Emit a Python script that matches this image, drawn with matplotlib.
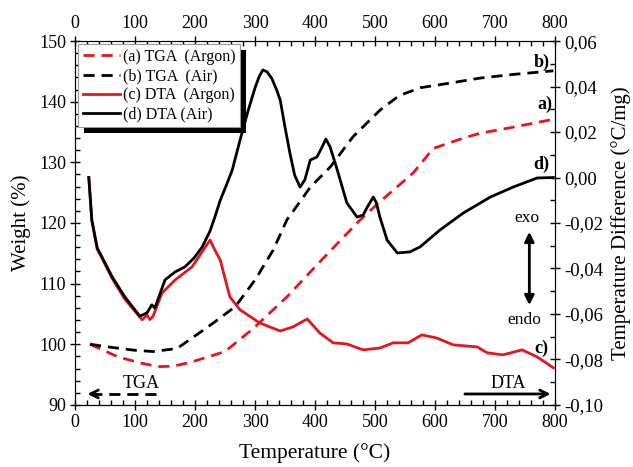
import matplotlib
matplotlib.use("Agg")
import matplotlib.pyplot as plt
from matplotlib.ticker import MultipleLocator, FuncFormatter
from matplotlib.patches import Rectangle

plt.rcParams['font.family'] = ['Liberation Serif', 'DejaVu Serif']

# ---- data ----
tga_air_T = [25, 60, 100, 130, 170, 222, 267, 300, 330, 353, 392, 425, 463, 508, 540, 575, 620, 675, 730, 797]
tga_air_W = [100, 99.5, 99.0, 98.8, 99.3, 102.9, 106.2, 110.6, 115.5, 120.5, 125.9, 129.2, 134.2, 138.6, 141.0, 142.3, 143.0, 143.9, 144.5, 145.1]

tga_ar_T = [25, 72, 110, 138, 165, 195, 250, 297, 353, 408, 475, 508, 563, 597, 647, 675, 730, 797]
tga_ar_W = [100, 97.9, 96.9, 96.3, 96.4, 97.1, 98.8, 102.6, 107.8, 113.6, 120.5, 123.5, 128.2, 132.3, 134.0, 134.8, 135.8, 137.1]

dta_air_T = [23, 28, 37, 45, 62, 83, 108, 120, 128, 133, 150, 167, 183, 198, 212, 225, 233, 242, 252, 262, 275, 288,
             300, 307, 313, 320, 328, 336, 342, 350, 358, 366, 375, 383, 392, 403, 410, 418, 425, 437, 453, 470, 480,
             487, 497, 502, 508, 520, 537, 558, 575, 608, 647, 692, 730, 770, 797]
dta_air_D = [0.0, -0.0187, -0.031, -0.035, -0.0437, -0.0525, -0.061, -0.0595, -0.056, -0.0574, -0.045, -0.0415,
             -0.0393, -0.0355, -0.0305, -0.0235, -0.0174, -0.010, -0.0035, 0.0033, 0.0165, 0.029,
             0.0395, 0.0445, 0.0473, 0.0465, 0.0435, 0.0385, 0.034, 0.022, 0.0108, 0.001, -0.0042, -0.001, 0.0077, 0.009,
             0.0125, 0.0169, 0.0135, 0.0033, -0.0112, -0.0174, -0.0165,
             -0.013, -0.0086, -0.011, -0.0174, -0.0275, -0.0332, -0.0327, -0.0305, -0.0231, -0.0156, -0.0086, -0.0042,
             -0.0002, 0.0]

dta_ar_T = [23, 28, 37, 45, 62, 83, 112, 120, 125, 130, 145, 167, 195, 225, 233, 242, 258, 275, 308, 342, 363, 387,
            408, 430, 453, 480, 508, 530, 555, 578, 603, 630, 670, 687, 713, 745, 770, 797]
dta_ar_D = [0.0, -0.019, -0.0315, -0.0355, -0.0445, -0.0535, -0.0626, -0.0605, -0.0625, -0.061, -0.0508, -0.045,
            -0.0393, -0.0275, -0.0319, -0.0363, -0.0525, -0.0582, -0.064, -0.0675, -0.0657, -0.0622,
            -0.0684, -0.0727, -0.0732, -0.0758, -0.075, -0.0727, -0.0727, -0.0692, -0.0706, -0.0736, -0.0745,
            -0.0771, -0.078, -0.0758, -0.0789, -0.0837]

labels = ["(a) TGA  (Argon)", "(b) TGA  (Air)", "(c) DTA  (Argon)", "(d) DTA (Air)"]
red = "#e8141b"

fig = plt.figure(figsize=(6.33, 4.67), dpi=100)
ax = fig.add_axes([0.1185, 0.133, 0.7585, 0.779])
ax2 = ax.twinx()

dash = (4, 2.5)
l1, = ax.plot(tga_ar_T, tga_ar_W, color=red, lw=2, linestyle=(0, dash))
l2, = ax.plot(tga_air_T, tga_air_W, color='black', lw=2, linestyle=(0, dash))
l3, = ax2.plot(dta_ar_T, dta_ar_D, color=red, lw=2)
l4, = ax2.plot(dta_air_T, dta_air_D, color='black', lw=2)

ax.set_xlim(0, 800)
ax.set_ylim(90, 150)
ax2.set_ylim(-0.10, 0.06)

ax.xaxis.set_major_locator(MultipleLocator(100))
ax.xaxis.set_minor_locator(MultipleLocator(20))
ax.yaxis.set_major_locator(MultipleLocator(10))
ax.yaxis.set_minor_locator(MultipleLocator(2))
ax2.yaxis.set_major_locator(MultipleLocator(0.02))
ax2.yaxis.set_minor_locator(MultipleLocator(0.01))
ax2.yaxis.set_major_formatter(FuncFormatter(lambda v, p: f"{v:.2f}".replace('.', ',').replace('-0,00', '0,00')))

ax.tick_params(axis='both', which='major', direction='inout', length=7, width=1, labelsize=13,
               top=True, labeltop=True, pad=3)
ax.tick_params(axis='both', which='minor', direction='in', length=3.5, width=1, top=True)
ax2.tick_params(axis='y', which='major', direction='inout', length=7, width=1, labelsize=13.5, pad=3)
ax2.tick_params(axis='y', which='minor', direction='in', length=3.5, width=1)

ax.set_xlabel("Temperature (°C)", fontsize=15.5, labelpad=9)
ax.set_ylabel("Weight (%)", fontsize=15, labelpad=6)
ax2.set_ylabel("Temperature Difference (°C/mg)", fontsize=15, labelpad=6)

# curve labels
for txt, xx, yy in [("b)", 777, 146.5), ("a)", 783, 139.5), ("d)", 777, 129.6), ("c)", 777, 99.4)]:
    ax.text(xx, yy, txt, fontsize=13, fontweight='bold', ha='center', va='center')

ax.text(753, 120.8, "exo", fontsize=12.5, ha='center', va='center')
ax.text(748, 104.0, "endo", fontsize=12.5, ha='center', va='center')
ax.annotate("", xy=(757, 119.0), xytext=(757, 106.0),
            arrowprops=dict(arrowstyle='<|-|>', lw=2, color='black', mutation_scale=14))

ax.text(110, 93.6, "TGA", fontsize=13, ha='center', va='center')
ax.plot([135, 30], [91.8, 91.8], color='black', lw=2, linestyle=(0, dash))
ax.annotate("", xy=(16, 91.8), xytext=(36, 91.8),
            arrowprops=dict(arrowstyle='->', lw=2, color='black', mutation_scale=14))
ax.text(722, 93.6, "DTA", fontsize=13, ha='center', va='center')
ax.annotate("", xy=(797, 91.8), xytext=(645, 91.8),
            arrowprops=dict(arrowstyle='->', lw=2, color='black', mutation_scale=14))

leg = ax.legend([l1, l2, l3, l4], labels, loc='upper left', fontsize=11.5, frameon=True, fancybox=False,
                edgecolor='#999999', framealpha=1, handlelength=2.3, handletextpad=0.2,
                borderpad=0.3, labelspacing=0.2, borderaxespad=0.2)
leg.get_frame().set_linewidth(0.8)
leg.set_zorder(5)

fig.canvas.draw()
bb = leg.get_window_extent().transformed(fig.transFigure.inverted())
ox, oy = 6 / 633, -6 / 467
shadow = Rectangle((bb.x0 + ox, bb.y0 + oy), bb.width, bb.height, transform=fig.transFigure,
                   facecolor='black', edgecolor='none', zorder=4)
ax.add_artist(shadow)
shadow.set_clip_on(False)

fig.savefig("out.png", dpi=100)
